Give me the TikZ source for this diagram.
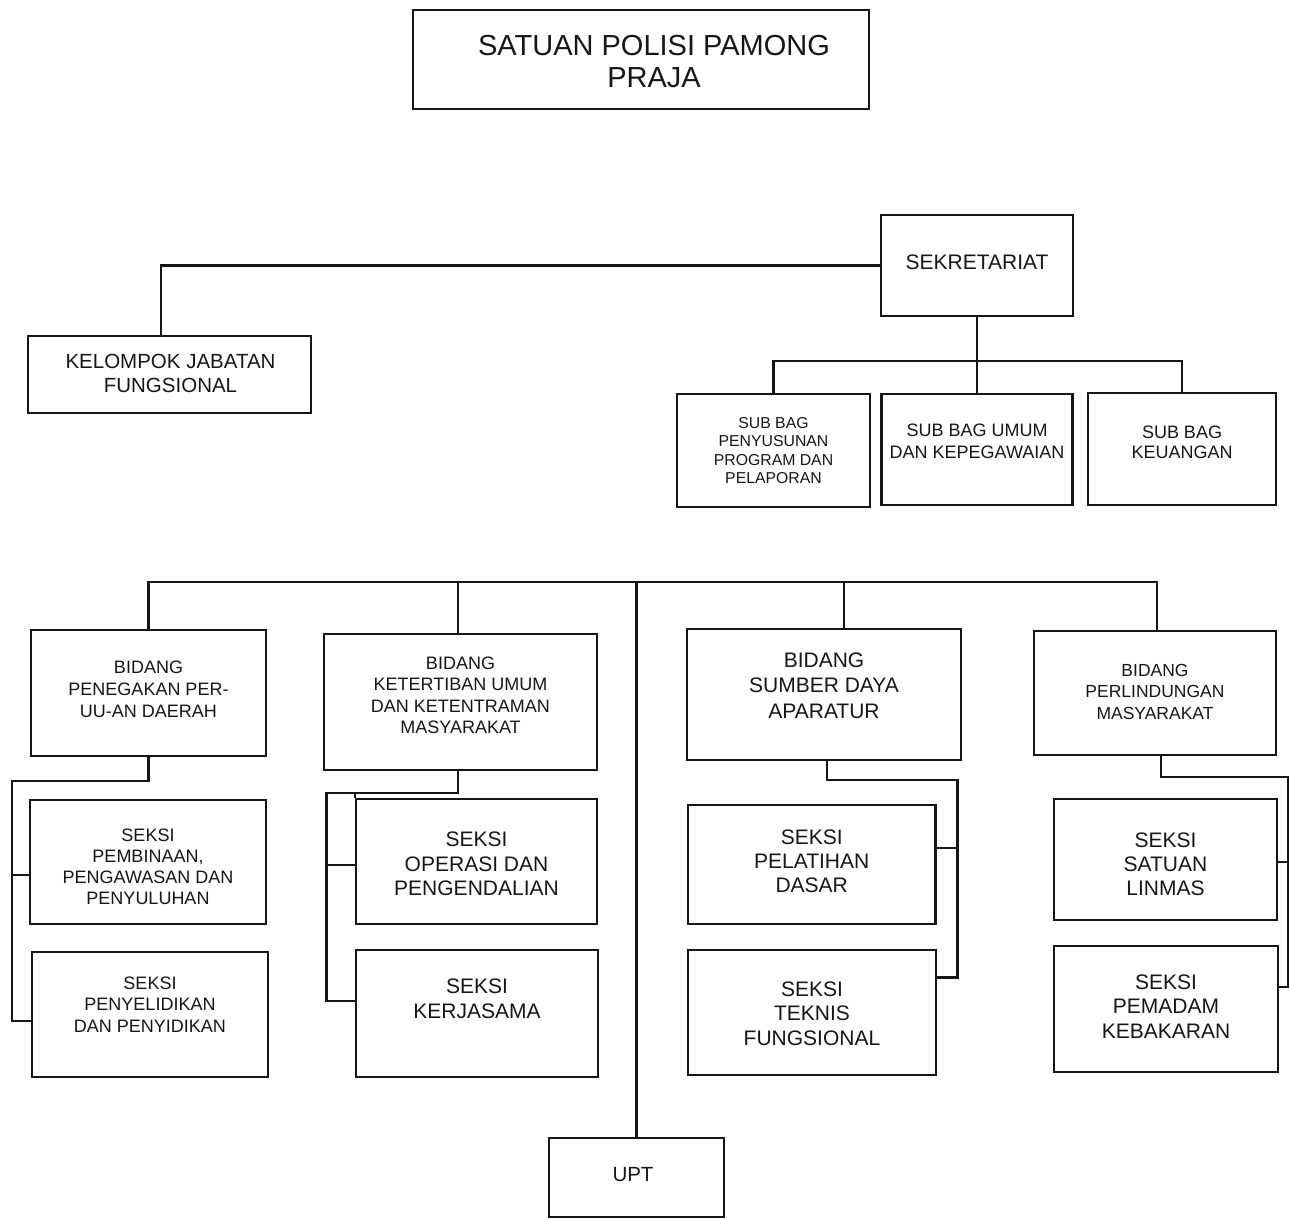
\documentclass[tikz,border=0pt]{standalone}
\usepackage{fontspec}
\setmainfont{Liberation Sans}
\definecolor{ink}{RGB}{22,22,26}
\begin{document}
\begin{tikzpicture}[x=1pt,y=-1pt,
  box/.style={draw=ink, line width=2.1pt, inner sep=0pt},
  conn/.style={draw=ink, line width=2.1pt},
  txt/.style={text=ink, align=center, inner sep=0pt},
  fs/.style 2 args={font=\fontsize{#1pt}{#2pt}\selectfont}]
\useasboundingbox (0,0) rectangle (1290,1218);

% top
\node[box, minimum width=456pt, minimum height=99pt] (top) at (641,59.5) {};
\node[txt, fs={29}{32.3}] (topt) at ([xshift=13pt,yshift=-1.7pt]top.center) {SATUAN POLISI PAMONG\\PRAJA};

% sekretariat
\node[box, minimum width=192pt, minimum height=101pt] (sek) at (977,265.5) {};
\node[txt, fs={21}{25}] (sekt) at ([yshift=3.5pt]sek.center) {SEKRETARIAT};

\node[box, minimum width=283pt, minimum height=77pt] (kjf) at (169.5,374.5) {};
\node[txt, fs={20.5}{24}] (kjft) at ([xshift=1pt,yshift=1.5pt]kjf.center) {KELOMPOK JABATAN\\FUNGSIONAL};

\node[box, minimum width=193pt, minimum height=113pt] (sb1) at (773.5,450.5) {};
\node[txt, fs={15.8}{18.5}] (sb1t) at (sb1.center) {SUB BAG\\PENYUSUNAN\\PROGRAM DAN\\PELAPORAN};

\node[box, minimum width=191pt, minimum height=111pt] (sb2) at (977,449.5) {};
\node[txt, fs={18}{21.6}] (sb2t) at ([yshift=8pt]sb2.center) {SUB BAG UMUM\\DAN KEPEGAWAIAN};

\node[box, minimum width=188pt, minimum height=112pt] (sb3) at (1182,449) {};
\node[txt, fs={18}{20}] (sb3t) at ([yshift=7pt]sb3.center) {SUB BAG\\KEUANGAN};

% bidang
\node[box, minimum width=235pt, minimum height=126pt] (b1) at (148.5,693) {};
\node[txt, fs={18}{22.2}] (b1t) at ([yshift=3.5pt]b1.center) {BIDANG\\PENEGAKAN PER-\\UU-AN DAERAH};

\node[box, minimum width=273pt, minimum height=136pt] (b2) at (460.5,702) {};
\node[txt, fs={18}{21.5}] (b2t) at ([yshift=6.5pt]b2.center) {BIDANG\\KETERTIBAN UMUM\\DAN KETENTRAMAN\\MASYARAKAT};

\node[box, minimum width=274pt, minimum height=131pt] (b3) at (824,694.5) {};
\node[txt, fs={21}{25.3}] (b3t) at ([yshift=9pt]b3.center) {BIDANG\\SUMBER DAYA\\APARATUR};

\node[box, minimum width=242pt, minimum height=124pt] (b4) at (1155,693) {};
\node[txt, fs={17.5}{21.7}] (b4t) at ([yshift=1.3pt]b4.center) {BIDANG\\PERLINDUNGAN\\MASYARAKAT};

% seksi
\node[box, minimum width=236pt, minimum height=124pt] (s1a) at (148,862) {};
\node[txt, fs={18}{21}] (s1at) at ([yshift=-4.5pt]s1a.center) {SEKSI\\PEMBINAAN,\\PENGAWASAN DAN\\PENYULUHAN};

\node[box, minimum width=235.5pt, minimum height=125pt] (s1b) at (150,1014.5) {};
\node[txt, fs={18}{21.7}] (s1bt) at ([yshift=10pt]s1b.center) {SEKSI\\PENYELIDIKAN\\DAN PENYIDIKAN};

\node[box, minimum width=241pt, minimum height=125pt] (s2a) at (476.5,861.5) {};
\node[txt, fs={21}{24.5}] (s2at) at ([yshift=-2.5pt]s2a.center) {SEKSI\\OPERASI DAN\\PENGENDALIAN};

\node[box, minimum width=241.5pt, minimum height=127pt] (s2b) at (477,1013.5) {};
\node[txt, fs={21}{25}] (s2bt) at ([yshift=14.5pt]s2b.center) {SEKSI\\KERJASAMA};

\node[box, minimum width=247.5pt, minimum height=119pt] (s3a) at (811.7,864.5) {};
\node[txt, fs={21}{24.2}] (s3at) at ([yshift=3.5pt]s3a.center) {SEKSI\\PELATIHAN\\DASAR};

\node[box, minimum width=248pt, minimum height=125pt] (s3b) at (812,1012.5) {};
\node[txt, fs={21}{24.5}] (s3bt) at ([yshift=-1pt]s3b.center) {SEKSI\\TEKNIS\\FUNGSIONAL};

\node[box, minimum width=223pt, minimum height=121pt] (s4a) at (1165.5,859.5) {};
\node[txt, fs={21}{24}] (s4at) at ([yshift=-4.5pt]s4a.center) {SEKSI\\SATUAN\\LINMAS};

\node[box, minimum width=224pt, minimum height=125.5pt] (s4b) at (1166,1009) {};
\node[txt, fs={21}{24.5}] (s4bt) at ([yshift=2.5pt]s4b.center) {SEKSI\\PEMADAM\\KEBAKARAN};

\node[box, minimum width=175pt, minimum height=79pt] (upt) at (636.5,1177.5) {};
\node[txt, fs={20.5}{24}] (uptt) at ([xshift=-3.5pt,yshift=2.5pt]upt.center) {UPT};

% connectors: sekretariat
\coordinate (sbb) at (977,361);
\draw[conn] (sek.west) -| ([xshift=-8.8pt]kjf.north);
\draw[conn] (sek.south) -- (sb2.north);
\draw[conn] (sb1.north) |- (sbb) -| (sb3.north);

% main bar
\coordinate (mb) at (636,582);
\draw[conn] (b1.north) |- (mb) -| ([xshift=2pt]b4.north);
\coordinate (d2) at ([xshift=-2.5pt]b2.north);
\draw[conn] (d2) -- (d2 |- mb);
\coordinate (d3) at ([xshift=20pt]b3.north);
\draw[conn] (d3) -- (d3 |- mb);
\draw[conn] (upt.north) -- (upt.north |- mb);

% bidang 1
\coordinate (b1j) at (12,781);
\coordinate (t1a) at ([yshift=-13pt]s1a.west);
\coordinate (t1b) at ([yshift=-6.5pt]s1b.west);
\draw[conn] (b1.south) |- (b1j) |- (t1b);
\draw[conn] (t1a) -- (t1a -| b1j);

% bidang 2
\coordinate (b2s) at ([xshift=-2.5pt]b2.south);
\coordinate (b2j) at (326.5,793);
\coordinate (t2a) at ([yshift=-3.5pt]s2a.west);
\coordinate (t2b) at ([yshift=12.8pt]s2b.west);
\draw[conn] (b2s) |- (b2j) |- (t2b);
\draw[conn] (t2a) -- (t2a -| b2j);
\draw[conn] (s2a.north west) -- (s2a.north west |- b2j);

% bidang 3
\coordinate (b3s) at ([xshift=2.6pt]b3.south);
\coordinate (b3j) at (957.5,780);
\coordinate (t3a) at ([yshift=16.5pt]s3a.east);
\coordinate (t3b) at ([yshift=35pt]s3b.east);
\draw[conn] (b3s) |- (b3j) |- (t3b);
\draw[conn] (t3a) -- (t3a -| b3j);

% bidang 4
\coordinate (b4s) at ([xshift=6pt]b4.south);
\coordinate (b4j) at (1288,777);
\coordinate (t4a) at ([yshift=-2.2pt]s4a.east);
\coordinate (t4b) at ([yshift=22.3pt]s4b.east);
\draw[conn] (b4s) |- (b4j) |- (t4b);
\draw[conn] (t4a) -- (t4a -| b4j);
\end{tikzpicture}
\end{document}
